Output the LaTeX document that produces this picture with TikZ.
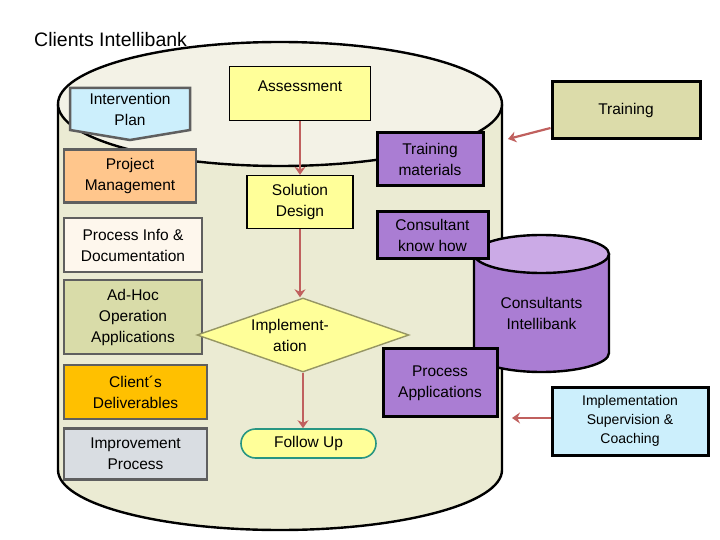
\documentclass[tikz,border=0pt]{standalone}
\usepackage{fontspec}
\setmainfont{Liberation Sans}
\usetikzlibrary{shapes.geometric,shapes.misc,arrows.meta}
\definecolor{body}{HTML}{EBEBD3}
\definecolor{topc}{HTML}{F3F2E6}
\definecolor{yel}{HTML}{FFFF99}
\definecolor{purp}{HTML}{AA7DD3}
\definecolor{purpt}{HTML}{CBAAE6}
\definecolor{arr}{HTML}{C0605E}
\definecolor{gbord}{HTML}{5F5F5F}
\tikzset{
  x=1pt,y=-1pt,
  every node/.style={font=\fontsize{15.5}{21}\selectfont, align=center, inner sep=1pt},
  gbox/.style={draw=gbord, line width=2.5pt, minimum width=#1},
  pbox/.style={draw=black, line width=3pt, fill=purp},
  ybox/.style={draw=black, line width=1.4pt, fill=yel},
  flow/.style={draw=arr, line width=2.2pt, -{Stealth[length=8pt,width=11pt]}},
}
\begin{document}
\begin{tikzpicture}
\useasboundingbox (0,0) rectangle (720,540);
% big cylinder
\fill[body] (58,104) -- (58,470) arc[start angle=180,end angle=360,x radius=222,y radius=-60] -- (502,104) -- cycle;
\draw[line width=2.4pt] (58,104) -- (58,470) arc[start angle=180,end angle=360,x radius=222,y radius=-60] -- (502,104);
\draw[line width=2.4pt, fill=topc] (280,104) ellipse[x radius=222, y radius=62];
\node[anchor=base west, font=\fontsize{19.5}{22}\selectfont] (title) at (33,47) {Clients Intellibank};
% small cylinder
\fill[purp] (474,254) -- (474,353) arc[start angle=180,end angle=360,x radius=67.5,y radius=-19] -- (609,254) -- cycle;
\draw[line width=2.4pt] (474,254) -- (474,353) arc[start angle=180,end angle=360,x radius=67.5,y radius=-19] -- (609,254);
\draw[line width=2.4pt, fill=purpt] (541.5,254) ellipse[x radius=67.5, y radius=19];
\node (ci) at (541.5,313) {Consultants\\Intellibank};
% left column
\fill[fill=cyan!20, draw=gbord, line width=2.5pt] (70,88) -- (190,88) -- (190,130) -- (130,140) -- (70,130) -- cycle;
\node (ip) at (130,109) {Intervention\\Plan};
\node[gbox=132pt, minimum height=53pt, fill=orange!45] (pm) at (130,176) {Project\\Management};
\node[gbox=138pt, minimum height=54pt, fill=yellow!6!orange!6] (pi) at (133,245) {Process Info \&\\Documentation};
\node[gbox=138pt, minimum height=74pt, fill={rgb,255:red,217;green,220;blue,169}] (ah) at (133,317) {Ad-Hoc\\Operation\\Applications};
\node[gbox=143pt, minimum height=54pt, fill={rgb,255:red,255;green,192;blue,0}] (cd) at (135.5,392) {Client´s\\Deliverables};
\node[gbox=143pt, minimum height=51pt, fill={rgb,255:red,217;green,221;blue,226}] (ipr) at (135.5,454) {Improvement\\Process};
% center column
\node[ybox, minimum width=141pt, minimum height=54pt, anchor=north] (as) at (300,66) {\raisebox{16pt}{Assessment}};
\node[ybox, minimum width=106pt, minimum height=53pt] (sd) at (300,202) {Solution\\Design};
\node[diamond, draw={rgb,255:red,150;green,150;blue,100}, line width=1.4pt, fill=yel, minimum width=212pt, minimum height=74pt, aspect=2.9, inner sep=0pt] (im) at (303,335) {};
\node at (290,335) {Implement-\\ation};
\node[rounded rectangle, draw={rgb,255:red,40;green,150;blue,130}, line width=1.6pt, fill=yel, minimum width=137pt, minimum height=29pt] (fu) at (308.5,443.5) {Follow Up};
% right column
\node[pbox, minimum width=106pt, minimum height=53pt] (tm) at (430,159.5) {Training\\materials};
\node[pbox, minimum width=111pt, minimum height=46pt] (kh) at (432.5,235) {Consultant\\know how};
\node[pbox, minimum width=114pt, minimum height=68pt] (pa) at (440,382) {};
\node at (440,383) {Process\\Applications};
\node[draw, line width=3pt, fill={rgb,255:red,220;green,220;blue,170}, minimum width=148pt, minimum height=57pt] (tr) at (626,110.5) {Training};
\node[draw, line width=3pt, fill=cyan!20, minimum width=156pt, minimum height=68pt, font=\fontsize{14}{19}\selectfont] (isc) at (630,421) {Implementation\\Supervision \&\\Coaching};
\coordinate (t1) at (508,139);
\coordinate (t2) at (512,418);
% arrows
\draw[flow] (as.south) -- (sd.north);
\draw[flow] (sd.south) -- (sd.south |- im.north);
\draw[flow] (im.south) -- (im.south |- fu.north);
\draw[flow] (tr.west |- 128,128) -- (t1);
\draw[flow] (isc.west |- 418,418) -- (t2);
\end{tikzpicture}
\end{document}
